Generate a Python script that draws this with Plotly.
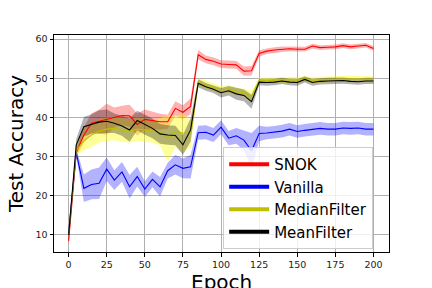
import numpy as np
import plotly.graph_objects as go

epochs = list(range(0, 201, 5))

snok_mean = [8.5, 31.0, 35.5, 38.5, 39.0, 39.5, 40.0, 40.5, 40.4, 38.2, 39.5, 39.2, 38.9, 38.9,
             42.3, 41.3, 42.8, 56.0, 54.8, 54.3, 53.6, 53.5, 53.4, 51.8, 51.9, 56.3, 56.9, 57.2,
             57.4, 57.5, 57.4, 57.4, 58.2, 57.8, 57.9, 58.0, 58.3, 58.0, 58.2, 58.4, 57.6]
snok_std = [0.8, 1.0, 2.0, 2.5, 3.0, 4.0, 2.5, 2.5, 2.8, 2.8, 2.5, 2.2, 2.0, 1.8,
            1.8, 1.8, 2.0, 1.2, 1.0, 1.0, 1.0, 1.0, 1.0, 1.2, 1.2, 0.8, 0.7, 0.7,
            0.7, 0.6, 0.6, 0.6, 0.6, 0.6, 0.6, 0.6, 0.6, 0.6, 0.6, 0.6, 0.6]

vanilla_mean = [10.4, 31.0, 21.9, 22.9, 23.2, 26.8, 24.0, 26.1, 22.3, 24.9, 21.7, 24.2, 22.3, 26.4,
                27.9, 27.0, 27.4, 36.1, 36.2, 35.5, 37.5, 34.7, 35.3, 34.2, 31.5, 35.9, 36.0, 36.2,
                36.5, 37.0, 36.4, 36.7, 37.0, 37.2, 37.0, 37.0, 37.3, 37.2, 37.3, 37.0, 37.0]
vanilla_std = [0.5, 1.0, 3.5, 3.8, 4.0, 3.0, 2.5, 2.5, 3.0, 2.5, 2.0, 2.0, 2.5, 2.0,
               2.5, 2.5, 3.0, 1.8, 1.8, 1.8, 1.8, 1.8, 2.0, 2.5, 4.5, 2.0, 1.6, 1.6,
               1.6, 1.6, 1.6, 1.6, 1.6, 1.6, 1.6, 1.6, 1.6, 1.6, 1.6, 1.6, 1.6]

median_mean = [10.0, 31.5, 34.0, 35.5, 36.5, 37.0, 37.2, 36.8, 36.5, 37.0, 36.8, 36.5, 36.3, 34.7,
               36.4, 36.0, 35.8, 49.0, 48.4, 47.7, 47.0, 47.2, 46.6, 46.3, 45.3, 49.3, 49.4, 49.5,
               49.5, 49.6, 49.5, 49.8, 49.5, 49.6, 49.7, 49.7, 49.8, 49.8, 49.8, 49.8, 49.7]
median_std = [0.5, 1.0, 2.5, 3.0, 3.0, 3.0, 3.0, 3.0, 3.0, 3.0, 3.0, 3.0, 3.5, 6.0,
              4.0, 5.0, 3.5, 1.0, 1.0, 1.0, 1.0, 1.0, 1.0, 1.0, 1.5, 0.8, 0.8, 0.8,
              0.8, 0.8, 0.8, 0.8, 0.8, 0.8, 0.8, 0.8, 0.8, 0.8, 0.8, 0.8, 0.8]

mean_mean = [10.0, 33.0, 37.6, 38.3, 38.8, 39.0, 38.5, 37.8, 36.8, 39.2, 38.1, 37.2, 35.8, 35.5,
             35.4, 33.0, 36.8, 48.7, 47.8, 47.2, 46.3, 46.8, 46.0, 45.6, 44.0, 49.0, 48.9, 49.0,
             49.3, 49.0, 48.9, 49.7, 48.9, 49.2, 49.3, 49.3, 49.4, 49.2, 49.1, 49.3, 49.3]
mean_std = [0.5, 1.5, 2.5, 2.5, 3.0, 3.0, 2.5, 2.5, 3.0, 2.5, 2.5, 2.5, 2.5, 2.5,
            2.5, 2.5, 3.0, 1.0, 1.0, 1.0, 1.2, 1.2, 1.5, 1.5, 1.8, 0.8, 0.8, 0.8,
            0.8, 0.8, 0.8, 0.8, 0.8, 0.8, 0.8, 0.8, 0.8, 0.8, 0.8, 0.8, 0.8]

series_names = ["SNOK", "Vanilla", "MedianFilter", "MeanFilter"]
line_colors = ["#ff0000", "#0000ff", "#bfbf00", "#000000"]
band_colors = ["rgba(255,0,0,0.3)", "rgba(0,0,255,0.3)", "rgba(255,255,0,0.4)", "rgba(0,0,0,0.3)"]
means = [snok_mean, vanilla_mean, median_mean, mean_mean]
stds = [snok_std, vanilla_std, median_std, mean_std]

fig = go.Figure()
x = np.array(epochs)
for m, s, bc in zip(means, stds, band_colors):
    m = np.array(m); s = np.array(s)
    fig.add_trace(go.Scatter(
        x=np.concatenate([x, x[::-1]]),
        y=np.concatenate([m + s, (m - s)[::-1]]),
        fill="toself", fillcolor=bc, line=dict(width=0), mode="lines",
        hoverinfo="skip", showlegend=False))
for m, lc in zip(means, line_colors):
    fig.add_trace(go.Scatter(x=epochs, y=m, mode="lines",
                             line=dict(color=lc, width=1.1), showlegend=False))
for name, lc in zip(series_names, line_colors):
    fig.add_trace(go.Scatter(x=[None], y=[None], mode="lines", name=name,
                             line=dict(color=lc, width=4)))

axis_common = dict(showline=True, mirror=True, linecolor="black", linewidth=1,
                   showgrid=True, gridcolor="#b0b0b0", gridwidth=0.8, zeroline=False,
                   ticks="outside", ticklen=3.5, tickcolor="black", tickwidth=0.8,
                   automargin=False,
                   tickfont=dict(family="DejaVu Sans", size=9.5, color="#222"))

fig.update_layout(
    width=432, height=288,
    margin=dict(l=54, r=43, t=35, b=36),
    paper_bgcolor="white", plot_bgcolor="white",
    font=dict(family="DejaVu Sans", color="black"),
    xaxis=dict(range=[-9.6, 210.2], tickvals=[0, 25, 50, 75, 100, 125, 150, 175, 200],
               **axis_common),
    yaxis=dict(range=[5.66, 61.02], tickvals=[10, 20, 30, 40, 50, 60],
               title=dict(text="Test Accuracy", font=dict(size=20), standoff=6), **axis_common),
    legend=dict(x=0.505, y=0.484, xanchor="left", yanchor="top",
                bgcolor="rgba(255,255,255,0.8)", bordercolor="#cccccc", borderwidth=1,
                font=dict(family="DejaVu Sans", size=15, color="black"),
                itemwidth=40, tracegroupgap=0),
    annotations=[dict(text="Epoch", xref="paper", yref="paper", x=0.5, y=-0.074,
                      xanchor="center", yanchor="top", showarrow=False,
                      font=dict(family="DejaVu Sans", size=20, color="black"))],
    showlegend=True,
)

fig.write_html("out.html", config={"displayModeBar": False},
               post_script="document.body.style.margin='0';document.body.style.overflow='hidden';")
